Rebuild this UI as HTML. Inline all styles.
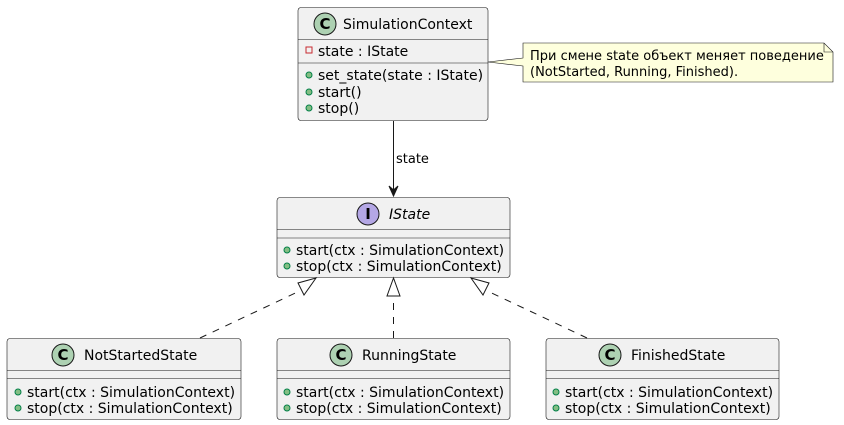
<!DOCTYPE html>
<html><head><meta charset="utf-8"><style>
html,body{margin:0;padding:0;background:#fff;}
svg{display:block;}
text{font-family:"DejaVu Sans","Liberation Sans",sans-serif;font-size:14px;fill:#000;}
.n{font-size:13px;}
</style></head><body>
<svg width="844" height="425" viewBox="0 0 844 425" xmlns="http://www.w3.org/2000/svg">
<defs>
<g id="cc"><circle r="11" fill="#ADD1B2" stroke="#181818" stroke-width="1"/><text x="0" y="5" text-anchor="middle" style="font-size:15px;font-weight:bold">C</text></g>
<g id="pub"><circle r="3" fill="#84BE84" stroke="#038048" stroke-width="1"/></g>
</defs>

<!-- SimulationContext -->
<rect x="298" y="7.5" width="190" height="113" rx="3" fill="#F1F1F1" stroke="#181818" stroke-width="0.6"/>
<use href="#cc" x="325" y="24"/>
<text x="343" y="29">SimulationContext</text>
<line x1="298" y1="39.5" x2="488" y2="39.5" stroke="#181818" stroke-width="0.6"/>
<rect x="306" y="47" width="6" height="6" fill="none" stroke="#C82930" stroke-width="1"/>
<text x="318" y="56">state : IState</text>
<line x1="298" y1="63" x2="488" y2="63" stroke="#181818" stroke-width="0.6"/>
<use href="#pub" x="309" y="75"/><text x="318" y="80">set_state(state : IState)</text>
<use href="#pub" x="309" y="92"/><text x="318" y="97">start()</text>
<use href="#pub" x="309" y="108"/><text x="318" y="113">stop()</text>

<!-- Note -->
<path d="M523,43 L824,43 L833,52 L833,82 L523,82 L523,66 L488,62 L523,58 Z" fill="#FEFFDD" stroke="#181818" stroke-width="0.6"/>
<path d="M824,43 L824,52 L833,52" fill="none" stroke="#181818" stroke-width="0.6"/>
<text class="n" x="530" y="60">При смене state объект меняет поведение</text>
<text class="n" x="530" y="76">(NotStarted, Running, Finished).</text>

<!-- arrow state -->
<line x1="393.5" y1="121" x2="393.5" y2="195" stroke="#181818" stroke-width="1"/>
<path d="M389,186 L393.5,196 L398,186 L393.5,190 Z" fill="#181818" stroke="#181818"/>
<text class="n" x="396" y="163">state</text>

<!-- IState -->
<rect x="277" y="197.5" width="233" height="80" rx="3" fill="#F1F1F1" stroke="#181818" stroke-width="0.6"/>
<circle cx="368" cy="214" r="11" fill="#B4A7E5" stroke="#181818" stroke-width="1"/>
<text x="368" y="219" text-anchor="middle" style="font-size:15px;font-weight:bold">I</text>
<text x="389" y="219" font-style="italic">IState</text>
<line x1="277" y1="229.5" x2="510" y2="229.5" stroke="#181818" stroke-width="0.6"/>
<line x1="277" y1="238" x2="510" y2="238" stroke="#181818" stroke-width="0.6"/>
<use href="#pub" x="287" y="250"/><text x="296" y="255">start(ctx : SimulationContext)</text>
<use href="#pub" x="287" y="266"/><text x="296" y="271">stop(ctx : SimulationContext)</text>

<!-- realizations -->
<g stroke="#181818" stroke-width="1" stroke-dasharray="7,7" fill="none">
<line x1="200" y1="338" x2="306" y2="288"/>
<line x1="393.5" y1="338" x2="393.5" y2="296"/>
<line x1="587" y1="338" x2="481" y2="288"/>
</g>
<g fill="#fff" stroke="#181818" stroke-width="1">
<path d="M316,278 L298,283 L304,295 Z"/>
<path d="M393.5,278 L387,296 L400,296 Z"/>
<path d="M471,278 L489,283 L483,295 Z"/>
</g>

<!-- NotStartedState -->
<rect x="7" y="338.5" width="234" height="81" rx="3" fill="#F1F1F1" stroke="#181818" stroke-width="0.6"/>
<use href="#cc" x="63" y="355"/>
<text x="84" y="360">NotStartedState</text>
<line x1="7" y1="370.5" x2="241" y2="370.5" stroke="#181818" stroke-width="0.6"/>
<line x1="7" y1="378.5" x2="241" y2="378.5" stroke="#181818" stroke-width="0.6"/>
<use href="#pub" x="18" y="392"/><text x="27" y="397">start(ctx : SimulationContext)</text>
<use href="#pub" x="18" y="408"/><text x="27" y="413">stop(ctx : SimulationContext)</text>

<!-- RunningState -->
<rect x="277" y="338.5" width="233" height="81" rx="3" fill="#F1F1F1" stroke="#181818" stroke-width="0.6"/>
<use href="#cc" x="341" y="355"/>
<text x="362" y="360">RunningState</text>
<line x1="277" y1="370.5" x2="510" y2="370.5" stroke="#181818" stroke-width="0.6"/>
<line x1="277" y1="378.5" x2="510" y2="378.5" stroke="#181818" stroke-width="0.6"/>
<use href="#pub" x="287" y="392"/><text x="296" y="397">start(ctx : SimulationContext)</text>
<use href="#pub" x="287" y="408"/><text x="296" y="413">stop(ctx : SimulationContext)</text>

<!-- FinishedState -->
<rect x="546" y="338.5" width="233" height="81" rx="3" fill="#F1F1F1" stroke="#181818" stroke-width="0.6"/>
<use href="#cc" x="610" y="355"/>
<text x="631" y="360">FinishedState</text>
<line x1="546" y1="370.5" x2="779" y2="370.5" stroke="#181818" stroke-width="0.6"/>
<line x1="546" y1="378.5" x2="779" y2="378.5" stroke="#181818" stroke-width="0.6"/>
<use href="#pub" x="556" y="392"/><text x="565" y="397">start(ctx : SimulationContext)</text>
<use href="#pub" x="556" y="408"/><text x="565" y="413">stop(ctx : SimulationContext)</text>
</svg>
</body></html>
